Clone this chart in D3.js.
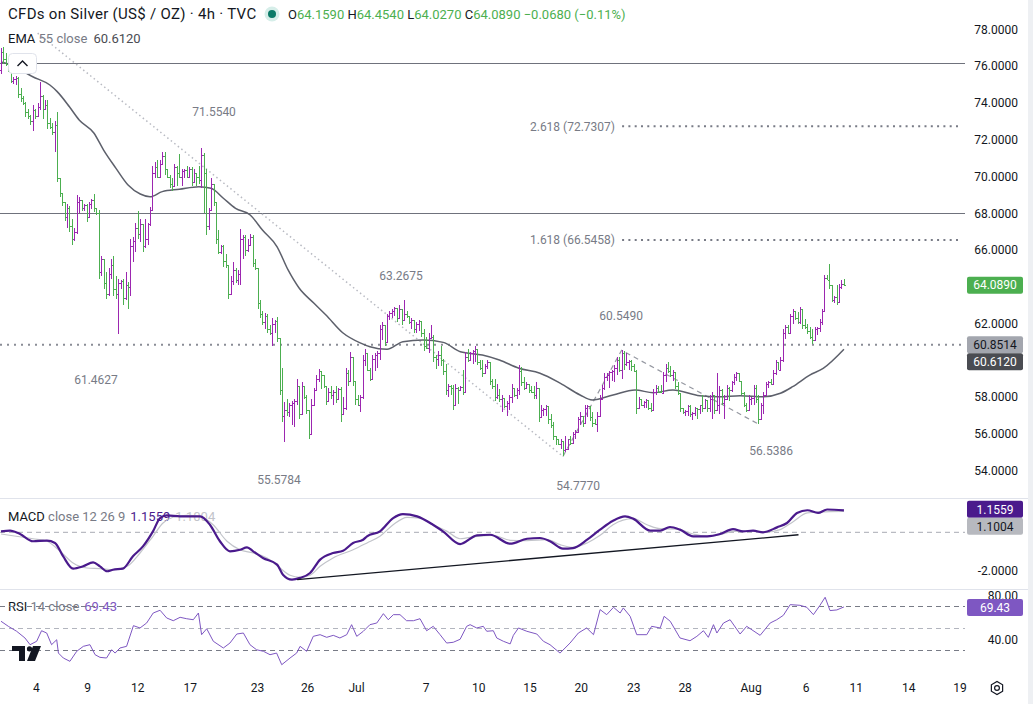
<!DOCTYPE html>
<html>
<head>
<meta charset="utf-8">
<script src="https://cdn.jsdelivr.net/npm/d3@7"></script>
<style>
html, body { margin: 0; padding: 0; background: #fff; }
svg { display: block; font-family: Roboto, "Noto Sans", sans-serif; }
text { white-space: pre; }
</style>
</head>
<body>
<svg id="chart" width="1033" height="704"></svg>
<script>
// ---- data (4h bars, bar index = position on the time axis) ----
const firstOpen = 75.8;
// [high, low, close]; open of each bar is the previous close
const bars = [
  [77.0,75.6,76.8],[77.06,76.15,76.4],[76.7,76.0,76.1],[76.3,75.7,75.9],[76.2,75.1,75.2],[75.4,75.05,75.3],[75.45,75.0,75.38],[75.4,74.25,74.5],[74.8,74.07,74.3],[74.4,73.9,74.0],
  [74.06,73.25,73.5],[73.7,73.15,73.3],[73.35,72.8,73.0],[73.88,72.5,73.6],[73.7,73.15,73.3],[74.0,73.3,73.8],[75.15,73.6,74.4],[74.45,73.15,73.7],[74.15,73.6,73.9],[74.15,72.6,72.9],
  [73.2,72.6,72.7],[72.9,72.25,72.4],[73.0,71.35,72.8],[73.5,69.7,69.9],[69.8,68.9,69.1],[69.1,68.4,68.6],[68.6,67.6,67.8],[68.5,67.2,68.3],[68.4,67.0,67.3],[67.7,66.3,66.6],
  [67.2,66.5,67.0],[69.0,66.9,68.6],[68.9,68.0,68.7],[68.75,68.1,68.3],[68.5,68.1,68.45],[68.5,67.53,67.8],[68.6,67.8,68.5],[68.8,68.26,68.7],[69.07,68.08,68.3],[68.3,67.9,68.0],
  [68.17,64.45,64.8],[65.7,64.6,65.5],[65.5,63.9,64.2],[64.8,63.36,63.6],[65.0,63.5,64.7],[65.5,64.45,65.2],[65.7,63.5,63.9],[64.6,63.36,63.6],[64.45,61.46,64.2],[64.4,63.9,64.3],
  [64.45,63.0,63.4],[64.8,63.3,64.1],[64.27,62.8,64.0],[66.6,63.5,66.2],[66.7,65.35,66.5],[67.5,65.9,67.2],[68.1,66.6,66.9],[67.7,66.44,67.4],[67.4,65.9,66.2],[67.7,66.1,66.6],
  [67.5,66.3,67.4],[68.35,67.3,68.2],[70.6,68.1,70.2],[70.8,69.9,70.5],[70.9,69.9,70.0],[70.9,69.9,70.7],[71.35,70.7,71.1],[71.35,70.1,70.4],[70.4,69.9,70.0],[70.1,69.4,69.6],
  [69.9,69.2,69.5],[70.7,69.6,70.5],[70.6,69.5,70.2],[71.25,69.9,70.0],[70.4,69.5,70.3],[70.4,69.9,70.35],[70.6,69.9,70.0],[70.5,69.9,70.4],[70.5,69.5,69.7],[70.4,69.7,70.2],
  [70.1,69.5,70.0],[70.6,69.6,69.8],[71.554,69.4,71.2],[71.3,68.0,70.2],[70.4,66.8,67.3],[68.3,67.1,68.2],[69.9,68.2,69.6],[69.6,68.4,68.6],[68.6,66.35,66.6],[67.1,65.8,65.9],
  [66.3,65.8,66.2],[66.3,65.1,65.4],[65.8,65.0,65.2],[65.17,63.36,63.6],[64.6,63.8,64.3],[65.35,64.1,64.9],[65.0,64.2,64.4],[64.9,64.1,64.7],[67.17,64.08,66.6],[66.8,65.5,66.7],
  [66.8,65.7,66.0],[66.6,65.9,66.3],[66.9,66.3,66.7],[66.8,65.08,65.3],[65.5,64.9,65.0],[65.0,62.8,63.1],[63.3,62.3,62.5],[62.7,61.9,62.1],[62.6,61.7,62.4],[62.5,61.5,61.7],
  [61.9,61.4,61.5],[62.3,60.8,62.0],[62.2,61.5,62.15],[62.36,61.0,61.2],[61.2,58.1,58.4],[59.6,56.65,57.0],[57.74,55.578,57.3],[57.9,57.0,57.2],[57.7,56.9,57.6],[57.8,56.5,57.7],
  [57.9,56.4,57.8],[59.0,57.6,58.6],[58.5,56.8,57.1],[58.8,57.9,58.6],[58.6,57.9,58.0],[58.1,57.1,57.3],[57.3,55.74,56.0],[57.9,56.4,57.6],[58.5,57.9,58.4],[59.2,58.46,59.0],
  [59.55,58.8,59.4],[59.3,58.46,59.2],[58.9,58.5,58.6],[58.6,57.55,57.8],[58.5,57.9,58.3],[58.6,57.9,58.1],[58.4,57.6,58.3],[58.6,57.7,57.9],[58.5,57.9,58.45],[58.55,56.65,57.1],
  [58.0,57.2,57.4],[59.6,57.3,59.3],[59.5,58.6,58.9],[60.46,58.83,60.2],[59.8,58.6,58.9],[58.8,57.6,57.9],[58.1,57.5,57.6],[58.1,57.2,58.0],[60.28,57.9,60.0],[60.6,59.7,60.4],
  [60.1,59.4,59.5],[59.6,58.9,59.0],[60.3,59.0,60.1],[60.4,59.4,60.3],[60.5,59.6,60.4],[61.9,60.0,61.7],[62.1,61.1,61.9],[61.9,60.8,61.0],[62.54,61.0,62.4],[62.7,62.2,62.6],
  [62.8,62.3,62.7],[62.9,62.4,62.85],[62.6,62.1,62.3],[63.0,62.3,62.8],[62.6,61.9,62.2],[63.2675,62.3,62.5],[62.7,62.3,62.4],[62.4,62.0,62.1],[62.3,61.7,62.2],[62.1,61.5,61.7],
  [62.1,61.5,62.0],[62.2,61.6,62.15],[61.9,61.3,61.5],[61.7,60.5,60.8],[61.3,60.6,60.7],[61.5,60.4,61.2],[61.9,61.2,61.3],[61.4,59.9,60.2],[60.3,59.55,60.1],[60.5,59.7,60.3],
  [60.8,59.7,60.0],[60.1,59.2,59.4],[59.8,58.1,58.4],[58.7,58.0,58.6],[58.65,58.1,58.5],[58.65,57.3,57.6],[58.7,58.1,58.5],[58.55,57.65,58.4],[58.6,58.4,58.55],[59.46,58.1,58.3],
  [60.46,59.0,60.2],[60.64,59.9,60.0],[60.46,60.0,60.4],[60.55,59.8,60.5],[60.8,59.9,60.6],[60.46,59.73,59.9],[60.0,59.46,59.6],[60.0,59.1,59.3],[59.8,59.46,59.7],[60.0,59.55,59.9],
  [59.55,58.64,58.9],[59.0,58.46,58.6],[59.0,57.8,58.0],[58.7,57.9,58.1],[58.46,57.74,57.9],[58.1,57.2,57.95],[57.9,57.4,57.5],[57.8,57.0,57.7],[58.1,57.3,58.0],[58.73,57.7,58.5],
  [58.5,58.0,58.1],[58.5,57.9,58.4],[59.73,58.1,59.4],[59.64,58.6,58.8],[59.1,58.4,58.5],[58.8,58.46,58.7],[58.73,58.2,58.4],[58.6,58.2,58.3],[58.6,57.9,58.1],[58.8,57.92,58.5],
  [58.46,56.65,56.9],[57.55,57.1,57.3],[57.4,57.0,57.35],[57.55,57.0,57.5],[57.5,56.56,56.8],[57.1,56.3,56.5],[56.65,55.65,55.9],[55.84,55.38,55.7],[55.65,55.38,55.45],[55.74,55.2,55.6],
  [55.6,54.777,55.1],[55.9,55.0,55.2],[55.74,55.2,55.7],[55.9,55.38,55.5],[56.1,55.45,56.0],[56.2,55.74,56.1],[56.92,56.1,56.8],[57.2,56.47,57.0],[57.0,56.38,56.6],[57.55,56.65,57.4],
  [57.55,56.92,57.5],[57.2,56.7,56.9],[57.2,56.38,56.6],[56.8,56.47,56.55],[57.2,56.1,57.0],[58.1,56.92,57.9],[58.64,57.92,58.5],[59.3,58.4,59.1],[59.3,58.9,59.2],[59.4,58.5,59.35],
  [59.5,58.9,59.45],[59.73,58.8,59.6],[60.2,59.2,60.0],[60.2,59.36,59.5],[60.549,59.0,60.4],[60.5,59.5,59.8],[60.4,59.7,59.9],[60.0,59.5,59.95],[60.0,59.4,59.7],[59.8,59.36,59.45],
  [59.5,57.1,57.4],[58.0,57.4,57.9],[57.9,57.5,57.6],[57.8,57.4,57.75],[57.9,57.4,57.85],[57.8,57.3,57.4],[57.7,57.2,57.3],[58.46,57.55,58.3],[58.64,58.1,58.5],[58.6,58.2,58.3],
  [58.64,58.2,58.25],[59.37,58.46,59.2],[59.8,58.8,59.6],[59.9,59.3,59.4],[59.7,59.1,59.2],[59.46,58.9,59.35],[59.0,58.46,58.6],[58.8,58.1,58.2],[58.1,57.2,57.4],[57.4,57.1,57.2],
  [57.3,57.0,57.25],[57.55,57.0,57.5],[57.55,56.92,57.1],[57.2,56.74,57.15],[57.46,57.0,57.4],[57.4,56.83,57.35],[57.6,57.1,57.55],[58.1,57.2,57.4],[57.9,57.55,57.85],[57.8,57.2,57.4],
  [58.1,57.2,57.9],[58.3,56.8,58.1],[58.1,57.1,57.3],[59.3,57.37,57.6],[58.6,57.1,58.4],[58.46,57.55,57.7],[58.1,56.83,57.9],[58.64,57.9,58.5],[58.55,57.8,58.4],[58.9,58.3,58.8],
  [59.27,58.64,59.1],[59.37,58.9,59.3],[59.2,58.82,58.9],[58.82,58.1,58.2],[58.3,57.46,57.6],[57.7,57.2,57.3],[58.1,57.4,57.9],[58.0,57.55,57.95],[58.64,57.55,58.5],[58.64,57.7,57.9],
  [58.1,56.5386,56.8],[57.7,56.8,57.6],[58.3,57.1,58.1],[58.82,58.1,58.7],[58.9,58.5,58.8],[59.0,58.64,58.7],[59.46,58.64,59.3],[60.0,59.2,59.9],[59.9,59.46,59.5],[60.2,59.46,60.0],
  [61.73,59.92,61.5],[61.9,61.18,61.8],[61.9,61.46,61.5],[62.55,61.5,62.4],[62.8,62.0,62.7],[62.7,62.18,62.3],[62.64,62.0,62.1],[62.9,62.0,62.8],[62.8,61.73,61.9],[62.27,61.73,61.8],
  [62.0,61.46,61.6],[61.82,61.18,61.3],[61.73,60.9,61.1],[61.82,61.1,61.7],[61.82,61.36,61.75],[62.27,61.55,62.1],[62.82,61.9,62.7],[64.63,62.7,64.5],[64.63,64.36,64.4],[65.26,63.9,64.1],
  [64.1,63.18,63.3],[63.5,63.1,63.45],[64.1,63.0,63.2],[64.18,63.45,64.0],[64.4,63.9,64.159],[64.454,64.027,64.089]
];

// EMA 55 read at [bar, value]
const emaPts = [[0,76.23],[4,76.07],[13,75.43],[20,74.98],[23,74.62],[28,73.8],[32,73.08],[38,72.37],[42,71.44],[47,70.46],[52,69.54],[57,69.05],[61,68.9],[66,69.18],[73,69.31],[81,69.45],[86,69.36],[91,68.82],[96,68.27],[102,67.91],[107,67.09],[113,66.18],[117.5,64.92],[122,63.94],[128,63.12],[133,62.47],[140,61.49],[147,60.95],[151,60.74],[158,60.6],[164.5,61.02],[172.7,61.11],[181,60.98],[188,60.47],[197,60.29],[204,60.02],[212,59.57],[220.6,59.3],[229,58.75],[237,58.12],[242,57.85],[250.5,58.12],[259.5,58.39],[267,58.24],[275,58.39],[286,58.08],[294,58.02],[302.5,58.08],[312,58.02],[319,58.21],[324,58.57],[331,59.2],[336.5,59.57],[345,60.612]];

// MACD (12, 26, 9) line and signal, [bar, value]
const macdPts = [[0,0.05],[3.7,0.09],[7.8,-0.09],[13.1,-0.47],[18.8,-0.44],[22.1,-0.56],[25.4,-1.26],[29.5,-1.91],[33.6,-1.79],[37.7,-1.58],[40.5,-1.79],[43.4,-2.05],[45.8,-1.97],[49.9,-1.91],[54,-1.26],[58.1,-0.74],[62.2,0.05],[65.1,0.75],[67.9,0.89],[73.3,0.84],[81.5,0.84],[85.5,0.4],[89.6,-0.47],[93.7,-1.0],[97.8,-0.92],[100.7,-0.79],[103.2,-1.0],[107.2,-1.35],[113,-1.7],[115.4,-2.23],[119.1,-2.49],[122.4,-2.4],[126.5,-2.14],[130.6,-1.44],[135.9,-1.09],[140,-0.97],[144.1,-0.56],[148.2,-0.39],[149.8,-0.21],[155.1,0.05],[160.5,0.75],[164.5,0.96],[170.3,0.84],[176.8,0.4],[180.9,0.05],[187.9,-0.62],[194.8,-0.16],[200.2,-0.13],[208.4,-0.6],[215.3,-0.34],[220.6,-0.3],[224.7,-0.47],[230,-0.86],[234.1,-0.83],[239.9,-0.39],[245.2,0.14],[250.5,0.61],[255.4,0.84],[258.7,0.72],[265.7,0.09],[269.8,0.09],[273.8,0.28],[277.9,0.14],[283.3,-0.21],[289,-0.21],[294.3,-0.09],[299.6,0.17],[303.7,0.05],[307.8,0.09],[311.9,0.0],[317.6,0.26],[321.7,0.49],[325.8,1.02],[330,1.16],[334.4,1.02],[338.1,1.2],[345,1.1559]];
const signalPts = [[0,-0.09],[13.1,-0.34],[18.8,-0.47],[24.2,-1.0],[29.5,-1.62],[35.2,-1.88],[40.5,-1.91],[45.8,-1.97],[51.6,-1.79],[56.9,-1.09],[62.2,-0.21],[66.3,0.49],[70.4,0.79],[76.1,0.89],[81.5,0.84],[86.8,0.4],[92.5,-0.47],[97.8,-0.92],[103.2,-1.09],[108.9,-1.35],[114.2,-1.88],[118.3,-2.26],[122.4,-2.37],[126.5,-2.26],[130.6,-1.79],[135.9,-1.35],[144.1,-0.92],[149.8,-0.56],[155.1,-0.21],[160.5,0.4],[166.2,0.79],[171.5,0.75],[176.8,0.4],[182.6,0.05],[187.9,-0.34],[194.8,-0.21],[201.4,-0.16],[208.4,-0.42],[215.3,-0.44],[223.5,-0.39],[228.8,-0.65],[234.1,-0.79],[239.9,-0.56],[245.2,-0.16],[250.5,0.4],[258.7,0.72],[264.4,0.4],[269.8,0.19],[276.7,0.17],[283.3,-0.09],[289,-0.21],[294.3,-0.13],[299.6,0.05],[307.8,0.05],[313.5,0.02],[318.9,0.14],[324.2,0.56],[330,1.02],[335.2,1.07],[345,1.1004]];
const macdTrend = [[121.2,-2.49],[326.4,-0.13]];

// RSI 14, [bar, value]
const rsiPts = [[0,56.4],[3,51.8],[6.4,47.3],[9.8,41.2],[11.9,35.1],[14.6,38.2],[16.6,47.8],[18.7,45.7],[20.7,35.1],[22.8,39.6],[23.5,27.5],[25.5,23],[28.2,20],[31,29.1],[33.7,33.6],[36.4,35.1],[38.5,26],[40.5,23.6],[43.2,23],[45.3,30.5],[46.7,27.5],[48.7,32.1],[51.4,33.6],[54.2,52.4],[56.9,50.3],[59.6,54.8],[62.3,63.9],[65.1,66.4],[67.8,59.4],[70.5,56.9],[73.3,60],[76,58.7],[78.7,57.8],[80.8,63.9],[82.1,44.2],[84.2,49.6],[86.9,38.2],[91,32.1],[93.7,36.6],[96.5,44.8],[99.2,45.7],[101.9,35.1],[104.6,30.5],[107.4,29.1],[110.1,26],[112.8,27.5],[114.9,16.9],[118.3,23],[121,27.5],[122.4,33.6],[125.1,29.1],[127.8,42.7],[130.6,44.2],[133.3,41.8],[136,43.6],[138.7,41.2],[141.5,44.2],[143.5,53.3],[145.6,42.7],[148.3,47.3],[151,53.3],[153.8,54.8],[156.5,63.3],[158.5,57.8],[160.6,62.4],[163.3,62.4],[166,56.9],[168.8,56.9],[171.5,58.7],[174.2,47.8],[176.9,51.8],[179.7,44.2],[182.4,36.6],[185.1,37.3],[187.9,40],[190.6,51.8],[192,53.3],[194.7,50.3],[197.4,51.8],[198.8,47.3],[201.5,47.8],[202.9,41.2],[205.6,38.2],[208.4,35.8],[209.7,43.6],[211.8,50.3],[215.2,47.3],[219.3,44.8],[222,38.2],[224.7,35.1],[228.8,27.5],[232.9,36.6],[236.3,45.7],[239.7,50.3],[242.5,44.2],[245.2,67],[247.9,62.4],[250.7,69.1],[253.4,63.9],[254.7,68.5],[257.5,60.9],[260.2,44.2],[264.3,44.2],[266.3,51.8],[269.8,50.3],[271.4,60.9],[273.9,56.4],[277.9,41.2],[282,38.7],[284.8,42.7],[287.5,47.8],[289.5,41.8],[291.6,53.3],[293,45.7],[295.7,54.8],[298.4,57.8],[302.5,44.8],[305.2,51.8],[310.7,43.6],[314.8,54.8],[317.5,57.8],[320.2,61.8],[323,71.5],[327,70.9],[329.8,69.1],[332.5,62.4],[335.2,70.9],[337.3,78.2],[339.3,66.1],[342.1,66.7],[345,69.43]];
const rsiLevels = [70, 50, 30];

// time axis labels, [bar, label]
const timeTicks = [[14.5,'4'],[35.5,'9'],[56,'12'],[77.5,'17'],[105,'23'],[125.5,'26'],[145.5,'Jul'],[174,'7'],[195.5,'10'],[216.5,'15'],[237.5,'20'],[259,'23'],[280,'28'],[307,'Aug'],[329.5,'6'],[350,'11'],[371.5,'14'],[392.5,'19']];
const priceTicks = [78,76,74,72,70,68,66,64,62,60,58,56,54];

// drawings on the price pane
const solidLevels = [76.18, 68.0];
const dottedLevel = 60.8514;
const fibLevels = [['2.618', 72.7307], ['1.618', 66.5458]];
const fibSpan = [251.3, 254.2, 393.4]; // text end, line start, line end (bars)
const downTrend = [[15, 77.8], [230, 54.777]];
const zigzag = [[230, 54.777], [254, 60.549], [310, 56.5386]];
const notes = [['71.5540',87.2,73.51],['61.4627',38.9,58.93],['55.5784',113.8,53.49],['63.2675',163.7,64.59],['60.5490',253.8,62.41],['54.7770',236.2,53.17],['56.5386',315.2,55.07]];

const lastBar = { o: '64.1590', h: '64.4540', l: '64.0270', c: '64.0890', chg: '−0.0680 (−0.11%)' };
const emaLast = 60.612, macdLast = 1.1559, signalLast = 1.1004, rsiLast = 69.43;

// ---- drawing ----
const UP = '#9c27b0', DOWN = '#4caf50', INK = '#131722', GREY = '#787b86';
const MACD_C = '#4a1a8c', SIG_C = '#c2c4ca', RSI_C = '#7e57c2';
const plotR = 965, axisX = 1018, boxX = 967, boxW = 56;

const svg = d3.select('#chart');
const x = d3.scaleLinear().domain([0, 392.5]).range([1, 960]);
const y = d3.scaleLinear().domain([54, 78]).range([470.7, 29.5]);
const yM = d3.scaleLinear().domain([-2, 0]).range([570.3, 532.3]);
const yR = d3.scaleLinear().domain([40, 80]).range([639.3, 595.3]);

const defs = svg.append('defs');
[['clipP', 0, 0, 497], ['clipM', 0, 499, 89], ['clipR', 0, 590, 82]].forEach(([id, x0, y0, h]) => {
  defs.append('clipPath').attr('id', id).append('rect').attr('x', x0).attr('y', y0).attr('width', plotR).attr('height', h);
});

// pane separators and right strip
svg.append('g').selectAll('line').data([498.5, 589.5]).join('line')
  .attr('x1', 0).attr('x2', 1028).attr('y1', d => d).attr('y2', d => d)
  .attr('stroke', '#e0e3eb');
svg.append('rect').attr('x', 1028).attr('y', 0).attr('width', 5).attr('height', 704).attr('fill', '#eef0f3');

const pane = svg.append('g').attr('clip-path', 'url(#clipP)');

// horizontal levels
pane.selectAll('.lvl').data(solidLevels).join('line').attr('class', 'lvl')
  .attr('x1', 0).attr('x2', plotR).attr('y1', d => Math.round(y(d)) + 0.5).attr('y2', d => Math.round(y(d)) + 0.5)
  .attr('stroke', '#6f727c').attr('stroke-width', 1);
pane.append('line').attr('x1', 0).attr('x2', plotR)
  .attr('y1', y(dottedLevel)).attr('y2', y(dottedLevel))
  .attr('stroke', '#8a8d96').attr('stroke-width', 2).attr('stroke-dasharray', '2 5');

// fib extension levels
fibLevels.forEach(([r, p]) => {
  pane.append('line').attr('x1', x(fibSpan[1])).attr('x2', x(fibSpan[2]))
    .attr('y1', y(p)).attr('y2', y(p))
    .attr('stroke', '#787b86').attr('stroke-width', 2).attr('stroke-dasharray', '2 4.3');
  pane.append('text').attr('x', x(fibSpan[0])).attr('y', y(p)).attr('dy', '0.35em')
    .attr('text-anchor', 'end').attr('font-size', 12).attr('fill', GREY)
    .text(`${r} (${p.toFixed(4)})`);
});

// trend drawings
const pl = d3.line().x(d => x(d[0])).y(d => y(d[1]));
pane.append('path').attr('d', pl(downTrend)).attr('fill', 'none')
  .attr('stroke', '#b8bac2').attr('stroke-width', 1.5).attr('stroke-dasharray', '1.5 3');
pane.append('path').attr('d', pl(zigzag)).attr('fill', 'none')
  .attr('stroke', '#9598a1').attr('stroke-width', 1.2).attr('stroke-dasharray', '5 4');

// EMA
pane.append('path').attr('d', d3.line().x(d => x(d[0])).y(d => y(d[1])).curve(d3.curveMonotoneX)(emaPts))
  .attr('fill', 'none').attr('stroke', '#5d606b').attr('stroke-width', 1.5);

// OHLC bars
const ohlc = bars.map((b, i) => ({ i, o: i === 0 ? firstOpen : bars[i - 1][2], h: b[0], l: b[1], c: b[2] }));
pane.append('g').attr('shape-rendering', 'crispEdges').selectAll('path').data(ohlc).join('path')
  .attr('d', d => {
    const px = Math.round(x(d.i)) + 0.5;
    const hi = Math.max(d.h, d.o, d.c), lo = Math.min(d.l, d.o, d.c);
    const oy = Math.round(y(d.o)) + 0.5, cy = Math.round(y(d.c)) + 0.5;
    return `M${px},${y(hi)}V${y(lo)}M${px - 1.5},${oy}H${px}M${px},${cy}H${px + 1.5}`;
  })
  .attr('fill', 'none').attr('stroke', d => d.c >= d.o ? UP : DOWN).attr('stroke-width', 1);

// pivot notes
pane.selectAll('.note').data(notes).join('text').attr('class', 'note')
  .attr('x', d => x(d[1])).attr('y', d => y(d[2])).attr('dy', '0.35em')
  .attr('text-anchor', 'middle').attr('font-size', 12).attr('fill', GREY)
  .text(d => d[0]);

// legend collapse button
svg.append('rect').attr('x', 8.5).attr('y', 53.5).attr('width', 28).attr('height', 20).attr('rx', 4)
  .attr('fill', '#fff').attr('stroke', '#e0e3eb');
svg.append('path').attr('d', 'M17.5,66 L22.5,61 L27.5,66').attr('fill', 'none')
  .attr('stroke', INK).attr('stroke-width', 1.4);

// ---- MACD pane ----
svg.append('line').attr('x1', 0).attr('x2', plotR).attr('y1', yM(0)).attr('y2', yM(0))
  .attr('stroke', '#a8abb3').attr('stroke-dasharray', '5 4');
const mLegend = svg.append('text').attr('x', 8).attr('y', 516).attr('dy', '0.35em').attr('font-size', 13);
mLegend.append('tspan').attr('fill', INK).text('MACD');
mLegend.append('tspan').attr('fill', GREY).text(' close 12 26 9');
mLegend.append('tspan').attr('fill', MACD_C).attr('dx', 5).text(macdLast.toFixed(4));
mLegend.append('tspan').attr('fill', SIG_C).attr('dx', 5).text(signalLast.toFixed(4));
const mp = svg.append('g').attr('clip-path', 'url(#clipM)');
const lm = d3.line().x(d => x(d[0])).y(d => yM(d[1])).curve(d3.curveMonotoneX);
mp.append('path').attr('d', lm(signalPts)).attr('fill', 'none').attr('stroke', SIG_C).attr('stroke-width', 1.2);
mp.append('path').attr('d', lm(macdPts)).attr('fill', 'none').attr('stroke', MACD_C).attr('stroke-width', 2.2);
mp.append('path').attr('d', d3.line().x(d => x(d[0])).y(d => yM(d[1]))(macdTrend))
  .attr('fill', 'none').attr('stroke', INK).attr('stroke-width', 1.3);

// ---- RSI pane ----
const rLegend = svg.append('text').attr('x', 8).attr('y', 606).attr('dy', '0.35em').attr('font-size', 13);
rLegend.append('tspan').attr('fill', INK).text('RSI');
rLegend.append('tspan').attr('fill', GREY).text(' 14 close');
rLegend.append('tspan').attr('fill', RSI_C).attr('dx', 5).text(rsiLast.toFixed(2));
svg.append('g').selectAll('line').data(rsiLevels).join('line')
  .attr('x1', 0).attr('x2', plotR).attr('y1', d => Math.round(yR(d)) + 0.5).attr('y2', d => Math.round(yR(d)) + 0.5)
  .attr('stroke', d => d === 50 ? '#b2b5be' : '#787b86').attr('stroke-dasharray', '5 4');
svg.append('g').attr('clip-path', 'url(#clipR)').append('path')
  .attr('d', d3.line().x(d => x(d[0])).y(d => yR(d[1]))(rsiPts))
  .attr('fill', 'none').attr('stroke', RSI_C).attr('stroke-width', 1);

// TradingView logo
svg.append('path').attr('d', 'M12,646H25V661H19V651H12Z M33,646H41L35,661H27Z').attr('fill', INK);
svg.append('circle').attr('cx', 29.5).attr('cy', 648.8).attr('r', 2.6).attr('fill', INK);

// ---- right axes ----
const ax = svg.append('g').attr('font-size', 12).attr('fill', INK).attr('text-anchor', 'end');
ax.selectAll('.pt').data(priceTicks).join('text').attr('class', 'pt')
  .attr('x', axisX).attr('y', d => y(d)).attr('dy', '0.35em').text(d => d3.format('.4f')(d));
ax.append('text').attr('x', axisX).attr('y', yM(-2)).attr('dy', '0.35em').text('-2.0000');
[80, 40].forEach(v => ax.append('text').attr('x', axisX).attr('y', yR(v)).attr('dy', '0.35em').text(v.toFixed(2)));

function tag(cy, label, fill, color) {
  svg.append('rect').attr('x', boxX).attr('y', cy - 8.5).attr('width', boxW).attr('height', 17).attr('rx', 2).attr('fill', fill);
  svg.append('text').attr('x', boxX + boxW / 2).attr('y', cy).attr('dy', '0.35em')
    .attr('text-anchor', 'middle').attr('font-size', 12).attr('fill', color).text(label);
}
const lastC = ohlc[ohlc.length - 1];
tag(y(lastC.c), lastC.c.toFixed(4), lastC.c >= lastC.o ? UP : DOWN, '#fff');
tag(y(dottedLevel), dottedLevel.toFixed(4), '#a3a6ae', INK);
tag(y(dottedLevel) + 17, emaLast.toFixed(4), '#4a4c52', '#fff');
tag(yM(macdLast) - 1, macdLast.toFixed(4), MACD_C, '#fff');
tag(yM(macdLast) + 16, signalLast.toFixed(4), '#b7b9bf', INK);
tag(yR(rsiLast) + 0.5, rsiLast.toFixed(2), RSI_C, '#fff');

// ---- time axis ----
svg.append('g').selectAll('text').data(timeTicks).join('text')
  .attr('x', d => x(d[0])).attr('y', 688).attr('dy', '0.35em')
  .attr('text-anchor', 'middle').attr('font-size', 12).attr('fill', INK).text(d => d[1]);
const gear = svg.append('g').attr('transform', 'translate(997,688)').attr('fill', 'none').attr('stroke', INK).attr('stroke-width', 1.2);
gear.append('path').attr('d', d3.range(6).map((k, j) => {
  const a = Math.PI / 6 + k * Math.PI / 3;
  return (j ? 'L' : 'M') + (6.5 * Math.cos(a)).toFixed(2) + ',' + (6.5 * Math.sin(a)).toFixed(2);
}).join('') + 'Z');
gear.append('circle').attr('r', 2.4);

// ---- header ----
svg.append('text').attr('x', 8).attr('y', 14).attr('dy', '0.35em').attr('font-size', 15)
  .attr('letter-spacing', 0.3).attr('fill', INK)
  .text('CFDs on Silver (US$ / OZ) · 4h · TVC');
svg.append('circle').attr('cx', 272).attr('cy', 14).attr('r', 7.5).attr('fill', '#d6eee9');
svg.append('circle').attr('cx', 272).attr('cy', 14).attr('r', 4).attr('fill', '#0b7a67');
const hdr = svg.append('text').attr('x', 288).attr('y', 14).attr('dy', '0.35em').attr('font-size', 13);
[['O', lastBar.o], [' H', lastBar.h], [' L', lastBar.l], [' C', lastBar.c]].forEach(([k, v]) => {
  hdr.append('tspan').attr('fill', INK).text(k);
  hdr.append('tspan').attr('fill', DOWN).text(v);
});
hdr.append('tspan').attr('fill', DOWN).text(' ' + lastBar.chg);

const eLegend = svg.append('text').attr('x', 8).attr('y', 38).attr('dy', '0.35em').attr('font-size', 13);
eLegend.append('tspan').attr('fill', INK).text('EMA');
eLegend.append('tspan').attr('fill', GREY).text(' 55 close');
eLegend.append('tspan').attr('fill', '#4a4c52').attr('dx', 6).text(emaLast.toFixed(4));
</script>
</body>
</html>
